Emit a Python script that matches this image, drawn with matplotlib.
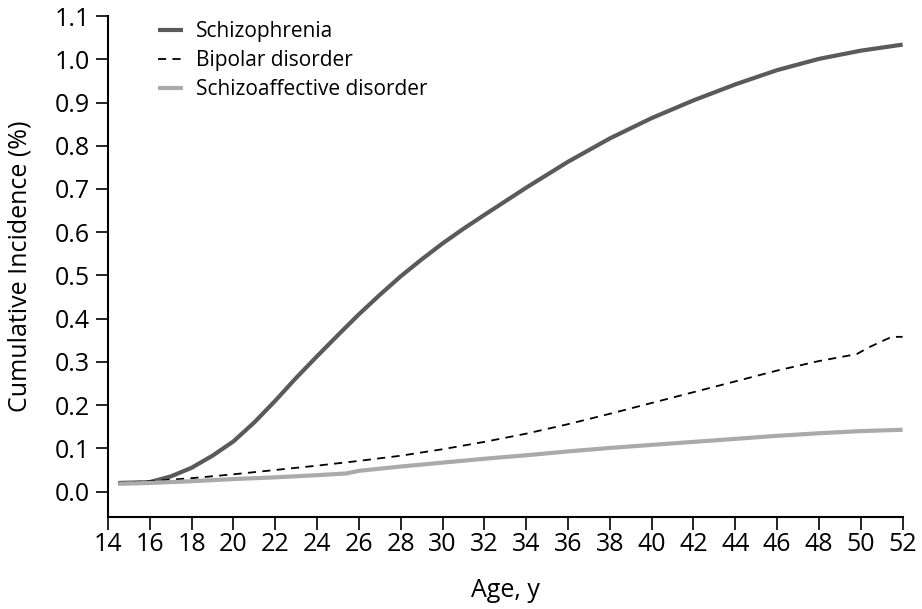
import matplotlib.pyplot as plt

plt.rcParams['font.family'] = ['Open Sans', 'DejaVu Sans']

# ----- data -----
age = [14.5, 16, 17, 18, 19, 20, 21, 22, 23, 24, 25, 26, 27, 28, 29, 30, 31, 32, 34, 36, 38,
       40, 42, 44, 46, 48, 50, 52]
schizophrenia = [0.020, 0.022, 0.035, 0.055, 0.083, 0.116, 0.160, 0.210, 0.263, 0.313, 0.362,
                 0.410, 0.455, 0.498, 0.537, 0.574, 0.608, 0.640, 0.703, 0.763, 0.817, 0.864,
                 0.905, 0.942, 0.975, 1.001, 1.020, 1.034]

age_bp = [14.5, 16, 18, 20, 22, 24, 26, 28, 30, 32, 34, 36, 38, 40, 42, 44, 46, 48, 49.8, 50.4, 51.2, 51.5, 52]
bipolar = [0.020, 0.024, 0.031, 0.040, 0.050, 0.060, 0.071, 0.083, 0.098, 0.115, 0.134, 0.156,
           0.180, 0.205, 0.230, 0.255, 0.280, 0.302, 0.318, 0.334, 0.352, 0.358, 0.358]

age_sa = [14.5, 16, 18, 20, 22, 24, 25.4, 26, 28, 30, 32, 34, 36, 38, 40, 42, 44, 46, 48, 50, 52]
schizoaffective = [0.018, 0.020, 0.024, 0.029, 0.033, 0.038, 0.042, 0.048, 0.058, 0.067, 0.076,
                   0.084, 0.093, 0.101, 0.108, 0.115, 0.122, 0.129, 0.135, 0.140, 0.143]

xticks = list(range(14, 53, 2))
yticks = [i / 10 for i in range(0, 12)]

# ----- plot -----
fig = plt.figure(figsize=(9.22, 6.09), dpi=100)
ax = fig.add_axes([0.117, 0.1516, 0.862, 0.822])

ax.plot(age, schizophrenia, color="#5a5a5a", lw=3.0, label="Schizophrenia", solid_capstyle="butt")
ax.plot(age_bp, bipolar, color="black", lw=1.3, dashes=(4.5, 3.5), label="Bipolar disorder")
ax.plot(age_sa, schizoaffective, color="#aaaaaa", lw=3.0, label="Schizoaffective disorder",
        solid_capstyle="butt")

ax.set_xlim(14, 52)
ax.set_ylim(-0.058, 1.1)
ax.set_xticks(xticks)
ax.set_yticks(yticks)
ax.set_yticklabels([f"{v:.1f}" for v in yticks])

for side in ["top", "right"]:
    ax.spines[side].set_visible(False)
for side in ["left", "bottom"]:
    ax.spines[side].set_linewidth(1.5)
ax.tick_params(direction="out", length=9, width=1.2, labelsize=18)
ax.tick_params(axis="x", pad=2)
ax.tick_params(axis="y", pad=4)

ax.set_xlabel("Age, y", fontsize=18, labelpad=15)
ax.set_ylabel("Cumulative Incidence (%)", fontsize=18, labelpad=16)

ax.legend(loc="upper left", bbox_to_anchor=(0.063, 0.99), frameon=False, fontsize=15,
          handlelength=1.2, handletextpad=0.63, labelspacing=0.38, borderpad=0, borderaxespad=0)

fig.savefig("out.png", dpi=100)
